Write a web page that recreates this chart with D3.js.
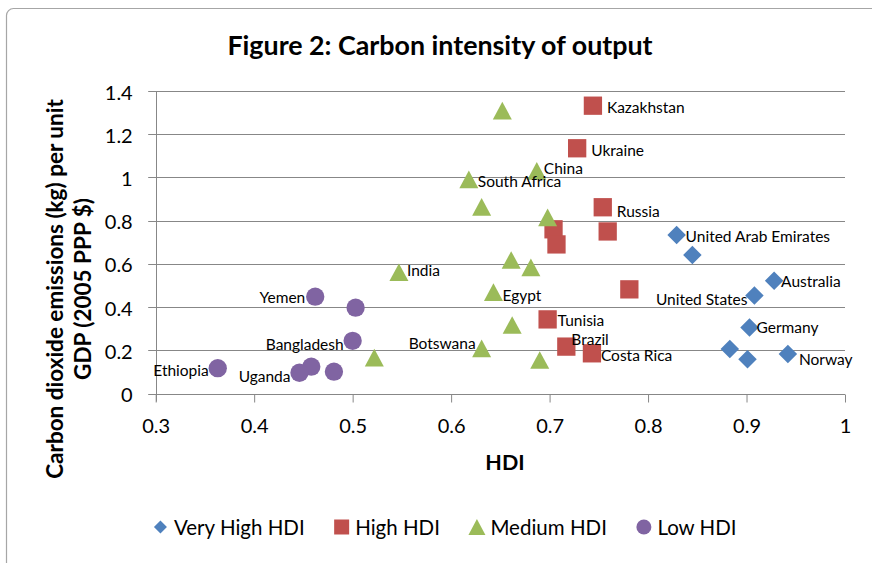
<!DOCTYPE html>
<html>
<head>
<meta charset="utf-8">
<script src="https://cdn.jsdelivr.net/npm/d3@7"></script>
<style>
  html, body { margin: 0; padding: 0; background: #fff; }
  svg { display: block; font-family: Lato, "Open Sans", sans-serif; }
</style>
</head>
<body>
<svg id="chart" width="872" height="563"></svg>
<script>
// ---------- DATA ----------
const xTicks = [0.3, 0.4, 0.5, 0.6, 0.7, 0.8, 0.9, 1];
const yTicks = [0, 0.2, 0.4, 0.6, 0.8, 1, 1.2, 1.4];
const xTickLabels = ["0.3", "0.4", "0.5", "0.6", "0.7", "0.8", "0.9", "1"];
const yTickLabels = ["0", "0.2", "0.4", "0.6", "0.8", "1", "1.2", "1.4"];

const seriesNames = ["Very High HDI", "High HDI", "Medium HDI", "Low HDI"];

const veryHighHDI = [0.829, 0.845, 0.928, 0.908, 0.903, 0.883, 0.901, 0.942];
const veryHighCO2 = [0.733, 0.641, 0.522, 0.454, 0.306, 0.206, 0.158, 0.183];
const veryHighNames = ["United Arab Emirates", "", "Australia", "United States", "Germany", "", "", "Norway"];

const highHDI = [0.744, 0.728, 0.754, 0.704, 0.707, 0.759, 0.781, 0.698, 0.717, 0.743];
const highCO2 = [1.332, 1.135, 0.862, 0.760, 0.690, 0.750, 0.482, 0.343, 0.217, 0.186];
const highNames = ["Kazakhstan", "Ukraine", "Russia", "", "", "", "", "Tunisia", "Brazil", "Costa Rica"];

const mediumHDI = [0.652, 0.687, 0.618, 0.631, 0.698, 0.547, 0.661, 0.681, 0.643, 0.662, 0.631, 0.690, 0.522];
const mediumCO2 = [1.309, 1.030, 0.991, 0.864, 0.815, 0.561, 0.618, 0.584, 0.469, 0.317, 0.209, 0.155, 0.166];
const mediumNames = ["", "China", "South Africa", "", "", "India", "", "", "Egypt", "", "Botswana", "", ""];

const lowHDI = [0.363, 0.462, 0.503, 0.500, 0.458, 0.446, 0.481];
const lowCO2 = [0.117, 0.448, 0.397, 0.244, 0.124, 0.096, 0.101];
const lowNames = ["Ethiopia", "Yemen", "", "Bangladesh", "", "Uganda", ""];

// ---------- LAYOUT / STYLE ----------
const W = 872, H = 563;
const plot = { left: 155.7, right: 845, top: 91, bottom: 393.5 };
const colors = ["#4F81BD", "#C0504D", "#9BBB59", "#8064A2"];
const gridColor = "#878787";

// label placement (side of the marker and small nudges)
const labelPlace = {
  "United Arab Emirates": { side: "r", dx: 9, dy: 1 },
  "Australia": { side: "r", dx: 7, dy: 0 },
  "United States": { side: "l", dx: -7, dy: 4 },
  "Germany": { side: "r", dx: 7, dy: 0 },
  "Norway": { side: "r", dx: 11, dy: 5 },
  "Kazakhstan": { side: "r", dx: 14, dy: 1 },
  "Ukraine": { side: "r", dx: 14, dy: 2 },
  "Russia": { side: "r", dx: 14, dy: 4 },
  "Tunisia": { side: "r", dx: 10, dy: 1 },
  "Brazil": { side: "r", dx: 5, dy: -8 },
  "Costa Rica": { side: "r", dx: 9, dy: 2 },
  "China": { side: "r", dx: 7, dy: -3 },
  "South Africa": { side: "r", dx: 9, dy: 1.5 },
  "India": { side: "r", dx: 8, dy: -2 },
  "Egypt": { side: "r", dx: 9, dy: 3 },
  "Botswana": { side: "l", dx: -6, dy: -5 },
  "Ethiopia": { side: "l", dx: -9, dy: 2 },
  "Yemen": { side: "l", dx: -10, dy: 0 },
  "Bangladesh": { side: "l", dx: -9, dy: 3 },
  "Uganda": { side: "l", dx: -9, dy: 3 }
};

const series = [
  { name: seriesNames[0], x: veryHighHDI, y: veryHighCO2, labels: veryHighNames },
  { name: seriesNames[1], x: highHDI, y: highCO2, labels: highNames },
  { name: seriesNames[2], x: mediumHDI, y: mediumCO2, labels: mediumNames },
  { name: seriesNames[3], x: lowHDI, y: lowCO2, labels: lowNames }
];

// custom marker shapes (size = bounding box width in px)
const diamondType = { draw(ctx, s) { const r = s / 2; ctx.moveTo(0, -r); ctx.lineTo(r, 0); ctx.lineTo(0, r); ctx.lineTo(-r, 0); ctx.closePath(); } };
const squareType = { draw(ctx, s) { const r = s / 2; ctx.rect(-r, -r, s, s); } };
const triangleType = { draw(ctx, s) { const w = s, h = s * 0.93; ctx.moveTo(0, -h / 2); ctx.lineTo(w / 2, h / 2); ctx.lineTo(-w / 2, h / 2); ctx.closePath(); } };
const circleType = { draw(ctx, s) { const r = s / 2; ctx.moveTo(r, 0); ctx.arc(0, 0, r, 0, 2 * Math.PI); } };
const shapeTypes = [diamondType, squareType, triangleType, circleType];
const markerSizes = [18.5, 18.3, 19, 18.3];
const legendSizes = [13, 15, 17, 15];

// ---------- DRAW ----------
const svg = d3.select("#chart");

svg.append("rect").attr("x", 0).attr("y", 0).attr("width", W).attr("height", H).attr("fill", "#fff");
// chart area border
svg.append("rect")
  .attr("x", 6.5).attr("y", 8.5).attr("width", 900).attr("height", 600)
  .attr("rx", 7).attr("fill", "#fff").attr("stroke", "#a6a6a6").attr("stroke-width", 1.2);

const x = d3.scaleLinear().domain([0.3, 1]).range([plot.left, plot.right]);
const y = d3.scaleLinear().domain([0, 1.4]).range([plot.bottom, plot.top]);

// gridlines
svg.append("g").selectAll("line").data(yTicks).join("line")
  .attr("x1", plot.left - 7.5).attr("x2", plot.right)
  .attr("y1", d => Math.round(y(d)) + 0.5).attr("y2", d => Math.round(y(d)) + 0.5)
  .attr("stroke", gridColor).attr("stroke-width", 1);

// y axis line
svg.append("line")
  .attr("x1", Math.round(plot.left) + 0.5).attr("x2", Math.round(plot.left) + 0.5)
  .attr("y1", plot.top).attr("y2", plot.bottom + 8)
  .attr("stroke", gridColor);

// x axis ticks (via d3 axis)
const xAxis = d3.axisBottom(x).tickValues(xTicks).tickSize(8).tickFormat((d, i) => xTickLabels[i]);
const gx = svg.append("g").attr("transform", `translate(0,${Math.round(plot.bottom) + 0.5})`).call(xAxis);
gx.select(".domain").remove();
gx.selectAll(".tick line").attr("stroke", gridColor);
gx.selectAll(".tick text").attr("fill", "#000").attr("font-size", 20).attr("font-family", "Lato")
  .attr("y", 0).attr("dy", null).attr("transform", "translate(0,30)").attr("dominant-baseline", "central");

// y axis labels (via d3 axis)
const yAxis = d3.axisLeft(y).tickValues(yTicks).tickSize(0).tickFormat((d, i) => yTickLabels[i]);
const gy = svg.append("g").attr("transform", `translate(${plot.left},0)`).call(yAxis);
gy.select(".domain").remove();
gy.selectAll(".tick text").attr("fill", "#000").attr("font-size", 20).attr("font-family", "Lato")
  .attr("x", -23).attr("dy", null).attr("dominant-baseline", "central");

// title
svg.append("text").attr("x", 440).attr("y", 45).attr("text-anchor", "middle")
  .attr("dominant-baseline", "central")
  .attr("font-size", 26.8).attr("font-weight", "bold").text("Figure 2: Carbon intensity of output");

// axis titles
svg.append("text").attr("x", 505).attr("y", 462).attr("text-anchor", "middle")
  .attr("dominant-baseline", "central").attr("font-size", 21.5).attr("font-weight", "bold").text("HDI");

const yt = svg.append("g").attr("transform", "translate(0,289) rotate(-90)");
yt.append("text").attr("x", 0).attr("y", 54).attr("text-anchor", "middle").attr("dominant-baseline", "central")
  .attr("font-size", 22.5).attr("font-weight", "bold").text("Carbon dioxide emissions (kg) per unit");
yt.append("text").attr("x", 0).attr("y", 82).attr("text-anchor", "middle").attr("dominant-baseline", "central")
  .attr("font-size", 22.5).attr("font-weight", "bold").text("GDP (2005 PPP $)");

// markers
series.forEach((s, si) => {
  const pts = s.x.map((v, i) => ({ hdi: v, co2: s.y[i], label: s.labels[i] }));
  const sym = d3.symbol().type(shapeTypes[si]).size(markerSizes[si]);
  svg.append("g").selectAll("path").data(pts).join("path")
    .attr("d", sym)
    .attr("transform", d => `translate(${x(d.hdi)},${y(d.co2)})`)
    .attr("fill", colors[si]);
});

// data labels
series.forEach((s, si) => {
  const pts = s.x.map((v, i) => ({ hdi: v, co2: s.y[i], label: s.labels[i] })).filter(d => d.label);
  svg.append("g").selectAll("text").data(pts).join("text")
    .attr("x", d => x(d.hdi) + labelPlace[d.label].dx)
    .attr("y", d => y(d.co2) + labelPlace[d.label].dy)
    .attr("text-anchor", d => labelPlace[d.label].side === "l" ? "end" : "start")
    .attr("dominant-baseline", "central")
    .attr("font-size", 15.5).attr("fill", "#000")
    .text(d => d.label);
});

// legend
const lg = svg.append("g");
let cursor = 0;
seriesNames.forEach((name, i) => {
  const g = lg.append("g");
  g.append("path").attr("d", d3.symbol().type(shapeTypes[i]).size(legendSizes[i])).attr("fill", colors[i]);
  const t = g.append("text").attr("x", 13.5).attr("y", 0).attr("dominant-baseline", "central")
    .attr("font-size", 20.5).attr("fill", "#000").text(name);
  const tw = t.node().getComputedTextLength();
  g.attr("transform", `translate(${cursor},527)`);
  cursor += 13.5 + tw + 37;
});
const totalW = cursor - 37 + 7;
lg.attr("transform", `translate(${445 - totalW / 2 + 7},0)`);
</script>
</body>
</html>
